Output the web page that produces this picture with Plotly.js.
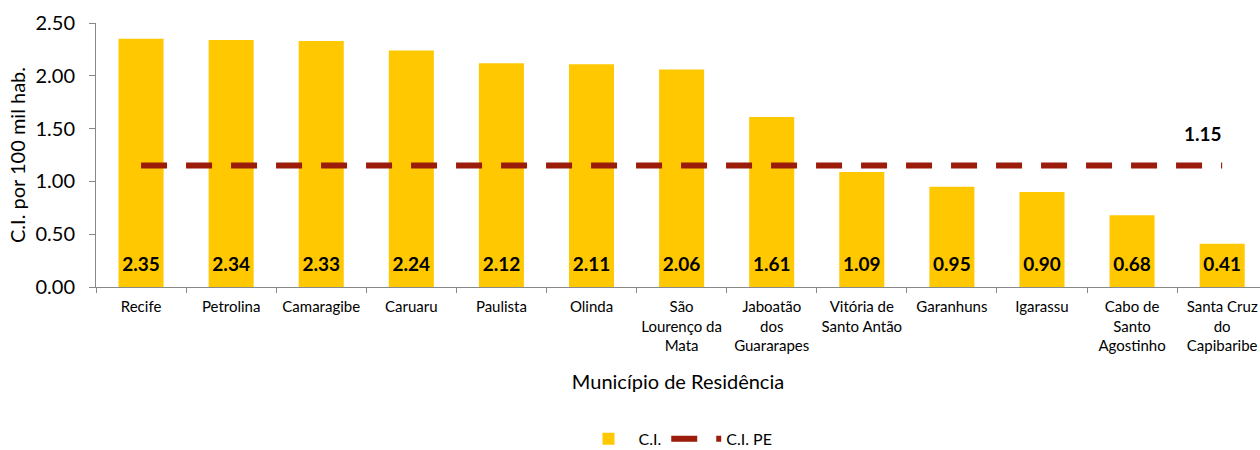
<!DOCTYPE html>
<html>
<head>
<meta charset="utf-8">
<script src="https://cdn.plot.ly/plotly-3.0.1.min.js"></script>
<style>html,body{margin:0;padding:0;background:#fff;}#chart{width:1260px;height:450px;}</style>
</head>
<body>
<div id="chart"></div>
<script>
const categories = ["Recife","Petrolina","Camaragibe","Caruaru","Paulista","Olinda","São<br>Lourenço da<br>Mata","Jaboatão<br>dos<br>Guararapes","Vitória de<br>Santo Antão","Garanhuns","Igarassu","Cabo de<br>Santo<br>Agostinho","Santa Cruz<br>do<br>Capibaribe"];
const ciValues = [2.35,2.34,2.33,2.24,2.12,2.11,2.06,1.61,1.09,0.95,0.90,0.68,0.41];
const peValue = 1.15;
const peValues = categories.map(() => peValue);
const baseline = categories.map(() => 0);

const fontFam = "Lato, 'Open Sans', sans-serif";
const traces = [
  {
    type: "bar", name: "C.I.", x: categories, y: ciValues,
    marker: {color: "#FFC800"},
    hoverinfo: "skip"
  },
  {
    type: "scatter", mode: "lines", name: "C.I. PE", x: categories, y: peValues,
    line: {color: "#9C1C0C", width: 6, dash: "26px,19px"},
    hoverinfo: "skip"
  },
  {
    type: "scatter", mode: "markers+text", x: categories, y: baseline, showlegend: false,
    marker: {size: 16, opacity: 0},
    text: ciValues.map(v => "<b>" + v.toFixed(2) + "</b>"), textposition: "top center",
    textfont: {color: "#000", size: 19, family: fontFam},
    cliponaxis: false, hoverinfo: "skip"
  }
];
const layout = {
  width: 1260, height: 450,
  margin: {l: 96, r: 0, t: 23, b: 163, autoexpand: false},
  paper_bgcolor: "#fff", plot_bgcolor: "#fff",
  font: {family: fontFam, color: "#000", size: 15},
  bargap: 0.5, showlegend: true,
  xaxis: {
    type: "category", range: [-0.5, 12.42], tickson: "boundaries",
    ticks: "outside", ticklen: 5, tickcolor: "#888", showline: true, linecolor: "#888",
    showgrid: false, tickfont: {size: 15}, automargin: false, ticklabelstandoff: 6,
    title: {text: "Município de Residência", font: {size: 20}, standoff: 21}
  },
  yaxis: {
    range: [0, 2.5], dtick: 0.5, tickformat: ".2f",
    ticks: "outside", ticklen: 6, tickcolor: "#888", showline: true, linecolor: "#888",
    showgrid: false, zeroline: false, tickfont: {size: 20}, automargin: false, ticklabelstandoff: 10,
    title: {text: "C.I. por 100 mil hab.", font: {size: 20}, standoff: 4}
  },
  legend: {orientation: "h", x: 0.5, xanchor: "center", y: -0.575, yanchor: "middle", font: {size: 16}, itemwidth: 50},
  annotations: [{
    x: categories.length - 1, y: peValue, xref: "x", yref: "y",
    text: "<b>" + peValue.toFixed(2) + "</b>", showarrow: false,
    xshift: -19, yshift: 32, font: {size: 19, color: "#000", family: fontFam}
  }]
};
Plotly.newPlot("chart", traces, layout, {staticPlot: true});
</script>
</body>
</html>
